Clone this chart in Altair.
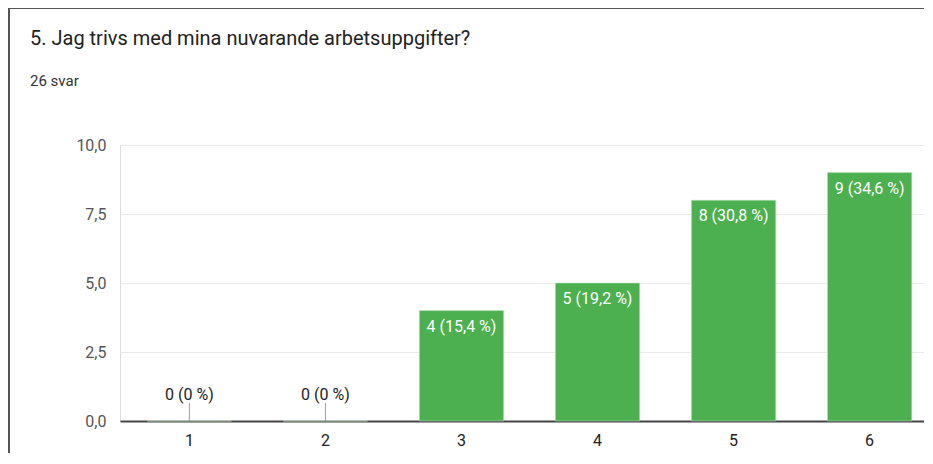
import altair as alt
import pandas as pd

categories = ["1", "2", "3", "4", "5", "6"]
counts = [0, 0, 4, 5, 8, 9]
labels = ["0 (0 %)", "0 (0 %)", "4 (15,4 %)", "5 (19,2 %)", "8 (30,8 %)", "9 (34,6 %)"]
title_text = "5. Jag trivs med mina nuvarande arbetsuppgifter?"
subtitle_text = "26 svar"

df = pd.DataFrame({"cat": categories, "count": counts, "label": labels})

W, H = 804, 276
FONT = "Roboto"

x = alt.X("cat:N", sort=categories, title=None,
          scale=alt.Scale(paddingInner=0.38, paddingOuter=0.2, range=[0, 819]),
          axis=alt.Axis(labelAngle=0, ticks=False, domainColor="#444444", domainWidth=2,
                        labelColor="#222222", labelFontSize=16, labelPadding=11,
                        labelFont=FONT, grid=False))
y = alt.Y("count:Q", title=None,
          scale=alt.Scale(domain=[0, 10]),
          axis=alt.Axis(values=[0, 2.5, 5, 7.5, 10], domain=False, ticks=False,
                        labelExpr="replace(format(datum.value, '.1f'), '.', ',')",
                        labelColor="#555555", labelFontSize=16, labelPadding=14,
                        labelFont=FONT, gridColor="#ebebeb", gridWidth=1))

base = alt.Chart(df)

bars = base.mark_bar(color="#4caf50", stroke="#c8e6c9", strokeWidth=0.5).encode(x=x, y=y)

inner = base.transform_filter("datum.count > 0").mark_text(
    baseline="top", dy=8, color="white", fontSize=16, font=FONT
).encode(x=x, y=y, text="label:N")

zero_lbl = base.transform_filter("datum.count == 0").mark_text(
    baseline="alphabetic", dy=-21, color="#222222", fontSize=16, font=FONT
).encode(x=x, y=y, text="label:N")

stem = base.transform_filter("datum.count == 0").mark_tick(
    orient="vertical", size=18, yOffset=-9, color="#777777", thickness=1
).encode(x=x, y=y)

one = pd.DataFrame({"t": [title_text], "s": [subtitle_text]})

title = alt.Chart(one).mark_text(
    align="left", baseline="alphabetic", fontSize=20, font=FONT, color="#222222"
).encode(x=alt.value(-90), y=alt.value(-100), text="t:N")

subtitle = alt.Chart(one).mark_text(
    align="left", baseline="alphabetic", fontSize=15, font=FONT, color="#333333"
).encode(x=alt.value(-90), y=alt.value(-59), text="s:N")

frame_top = alt.Chart(one).mark_rule(color="#555555", strokeWidth=2).encode(
    x=alt.value(-112), x2=alt.value(W + 10), y=alt.value(-137)
)
frame_left = alt.Chart(one).mark_rule(color="#555555", strokeWidth=2).encode(
    x=alt.value(-111), y=alt.value(-138), y2=alt.value(H + 32)
)

chart = alt.layer(bars, inner, zero_lbl, stem, title, subtitle, frame_top, frame_left).properties(
    width=W, height=H,
    padding={"left": 112, "top": 137, "right": 0, "bottom": 32},
    autosize=alt.AutoSizeParams(type="none"),
).configure_view(stroke=None).configure(background="white")

chart.save("out.html", embed_options={"renderer": "svg", "actions": False})
